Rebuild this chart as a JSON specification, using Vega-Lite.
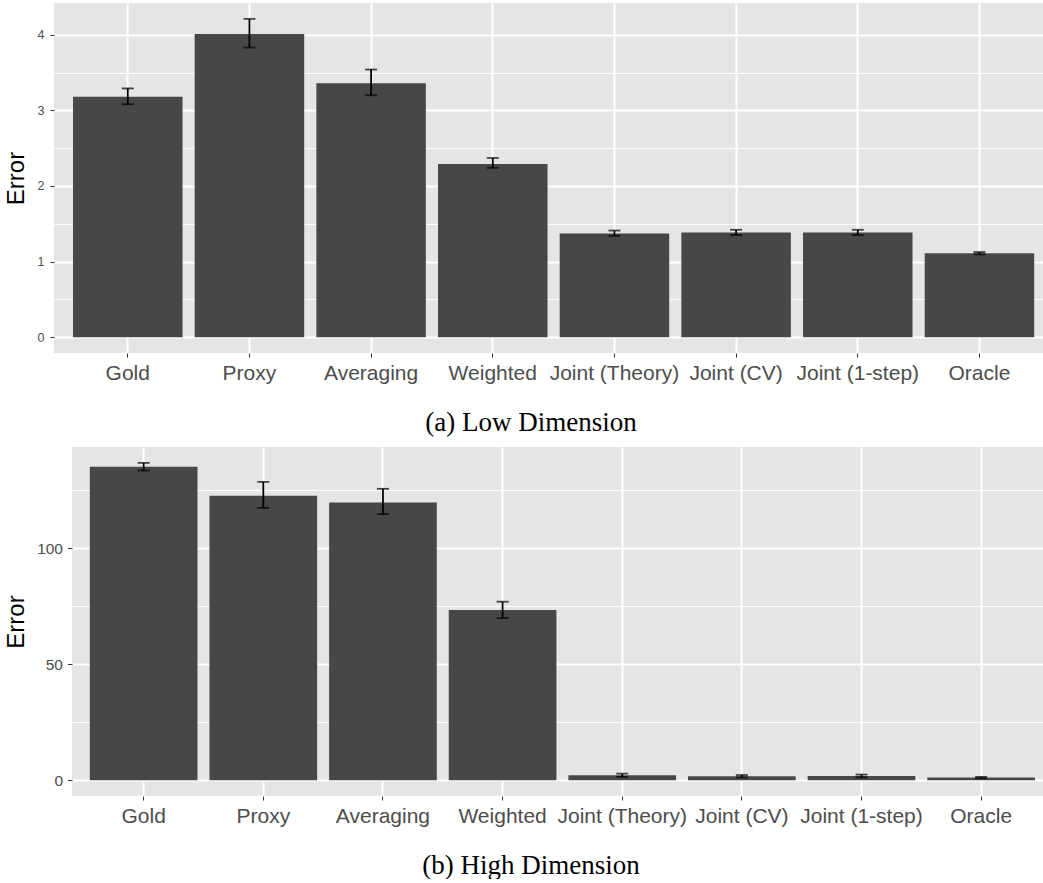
{
  "$schema": "https://vega.github.io/schema/vega-lite/v6.json",
  "padding": {"left": 4, "top": 3, "right": 0, "bottom": 0},
  "background": "white",
  "spacing": 11,
  "center": true,
  "config": {
    "view": {"fill": "#e5e5e5", "stroke": null},
    "font": "Liberation Sans"
  },
  "datasets": {
    "low": [
      {"method": "Gold", "error": 3.18, "lo": 3.08, "hi": 3.29},
      {"method": "Proxy", "error": 4.01, "lo": 3.83, "hi": 4.21},
      {"method": "Averaging", "error": 3.36, "lo": 3.2, "hi": 3.54},
      {"method": "Weighted", "error": 2.29, "lo": 2.24, "hi": 2.37},
      {"method": "Joint (Theory)", "error": 1.37, "lo": 1.34, "hi": 1.41},
      {"method": "Joint (CV)", "error": 1.385, "lo": 1.35, "hi": 1.42},
      {"method": "Joint (1-step)", "error": 1.385, "lo": 1.35, "hi": 1.42},
      {"method": "Oracle", "error": 1.11, "lo": 1.095, "hi": 1.125}
    ],
    "high": [
      {"method": "Gold", "error": 135.2, "lo": 133.6, "hi": 136.9},
      {"method": "Proxy", "error": 122.7, "lo": 117.5, "hi": 128.7},
      {"method": "Averaging", "error": 119.8, "lo": 114.8, "hi": 125.7},
      {"method": "Weighted", "error": 73.4, "lo": 69.9, "hi": 77.0},
      {"method": "Joint (Theory)", "error": 2.1, "lo": 1.4, "hi": 2.8},
      {"method": "Joint (CV)", "error": 1.7, "lo": 1.2, "hi": 2.2},
      {"method": "Joint (1-step)", "error": 1.8, "lo": 1.2, "hi": 2.4},
      {"method": "Oracle", "error": 1.1, "lo": 0.8, "hi": 1.4}
    ]
  },
  "vconcat": [
    {
      "width": 1007,
      "height": 350,
      "data": {"name": "low"},
      "title": {"text": "(a) Low Dimension", "orient": "bottom", "anchor": "middle", "frame": "group", "dx": -26.5, "offset": 27, "font": "Liberation Serif", "fontSize": 27, "fontWeight": "normal", "color": "black"},
      "encoding": {
        "x": {
          "field": "method", "type": "nominal", "sort": null,
          "scale": {"paddingInner": 0.1, "paddingOuter": 0.1883, "align": 0.415},
          "axis": {"title": null, "domain": false, "tickSize": 4, "tickColor": "#333333", "tickWidth": 1, "labelFontSize": 21, "labelColor": "#4d4d4d", "labelPadding": 5, "labelAngle": 0, "labelOverlap": false, "grid": true, "gridColor": "white", "gridWidth": 2, "bandPosition": 0.5}
        }
      },
      "layer": [
        {
          "mark": {"type": "bar", "color": "#474747"},
          "encoding": {
            "y": {
              "field": "error", "type": "quantitative", "title": "Error",
              "scale": {"domain": [-0.21, 4.42], "nice": false, "zero": false},
              "axis": {
                "values": [0, 0.5, 1, 1.5, 2, 2.5, 3, 3.5, 4],
                "labelExpr": "datum.value % 1 === 0 ? format(datum.value, 'd') : ''",
                "domain": false,
                "titleFontSize": 24, "titleFontWeight": "normal", "titleColor": "black", "titlePadding": 9,
                "labelFontSize": 12.5, "labelColor": "#4d4d4d", "labelPadding": 6,
                "tickSize": 4, "tickColor": "#333333",
                "tickOpacity": {"condition": {"test": "datum.value % 1 !== 0", "value": 0}, "value": 1},
                "gridColor": "white",
                "gridWidth": {"condition": {"test": "datum.value % 1 !== 0", "value": 1}, "value": 2},
                "minExtent": 17, "maxExtent": 17
              }
            },
            "y2": {"datum": 0}
          }
        },
        {
          "mark": {"type": "rule", "color": "black", "strokeWidth": 1.8},
          "encoding": {
            "y": {"field": "lo", "type": "quantitative", "title": "Error", "scale": {"domain": [-0.21, 4.42], "nice": false, "zero": false}},
            "y2": {"field": "hi"}
          }
        },
        {
          "mark": {"type": "tick", "color": "black", "size": 12, "thickness": 1.8},
          "encoding": {"y": {"field": "lo", "type": "quantitative", "title": "Error", "scale": {"domain": [-0.21, 4.42], "nice": false, "zero": false}}}
        },
        {
          "mark": {"type": "tick", "color": "black", "size": 12, "thickness": 1.8},
          "encoding": {"y": {"field": "hi", "type": "quantitative", "title": "Error", "scale": {"domain": [-0.21, 4.42], "nice": false, "zero": false}}}
        }
      ]
    },
    {
      "width": 971,
      "height": 349,
      "data": {"name": "high"},
      "title": {"text": "(b) High Dimension", "orient": "bottom", "anchor": "middle", "frame": "group", "dx": -26.5, "offset": 27, "font": "Liberation Serif", "fontSize": 27, "fontWeight": "normal", "color": "black"},
      "encoding": {
        "x": {
          "field": "method", "type": "nominal", "sort": null,
          "scale": {"paddingInner": 0.1, "paddingOuter": 0.108, "align": 0.69},
          "axis": {"title": null, "domain": false, "tickSize": 4, "tickColor": "#333333", "tickWidth": 1, "labelFontSize": 21, "labelColor": "#4d4d4d", "labelPadding": 5, "labelAngle": 0, "labelOverlap": false, "grid": true, "gridColor": "white", "gridWidth": 2, "bandPosition": 0.5}
        }
      },
      "layer": [
        {
          "mark": {"type": "bar", "color": "#474747"},
          "encoding": {
            "y": {
              "field": "error", "type": "quantitative", "title": "Error",
              "scale": {"domain": [-6.85, 143.75], "nice": false, "zero": false},
              "axis": {
                "values": [0, 25, 50, 75, 100, 125],
                "labelExpr": "datum.value % 50 === 0 ? datum.label : ''",
                "domain": false,
                "titleFontSize": 24, "titleFontWeight": "normal", "titleColor": "black", "titlePadding": 8,
                "labelFontSize": 15.5, "labelColor": "#4d4d4d", "labelPadding": 5,
                "tickSize": 4.5, "tickColor": "#333333",
                "tickOpacity": {"condition": {"test": "datum.value % 50 !== 0", "value": 0}, "value": 1},
                "gridColor": "white",
                "gridWidth": {"condition": {"test": "datum.value % 50 !== 0", "value": 1}, "value": 2},
                "minExtent": 36, "maxExtent": 36
              }
            },
            "y2": {"datum": 0}
          }
        },
        {
          "mark": {"type": "rule", "color": "black", "strokeWidth": 1.8},
          "encoding": {
            "y": {"field": "lo", "type": "quantitative", "title": "Error", "scale": {"domain": [-6.85, 143.75], "nice": false, "zero": false}},
            "y2": {"field": "hi"}
          }
        },
        {
          "mark": {"type": "tick", "color": "black", "size": 12, "thickness": 1.8},
          "encoding": {"y": {"field": "lo", "type": "quantitative", "title": "Error", "scale": {"domain": [-6.85, 143.75], "nice": false, "zero": false}}}
        },
        {
          "mark": {"type": "tick", "color": "black", "size": 12, "thickness": 1.8},
          "encoding": {"y": {"field": "hi", "type": "quantitative", "title": "Error", "scale": {"domain": [-6.85, 143.75], "nice": false, "zero": false}}}
        }
      ]
    }
  ]
}
